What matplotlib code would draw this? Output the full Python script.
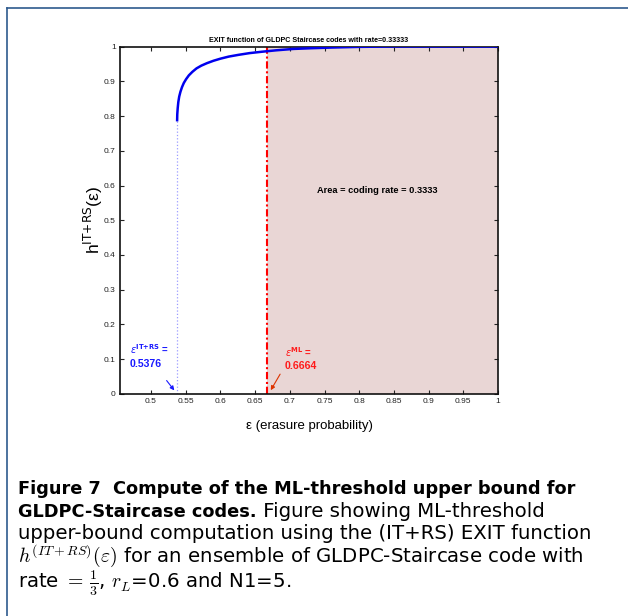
import matplotlib
matplotlib.use('Agg')
import matplotlib.pyplot as plt
from matplotlib.lines import Line2D

plt.rcParams['font.family'] = ['Liberation Sans', 'DejaVu Sans']

# EXIT curve h^(IT+RS)(eps)
eps = [0.5376, 0.5378, 0.5384, 0.5393, 0.5406, 0.5424, 0.5446, 0.5472, 0.5505,
       0.5545, 0.5595, 0.5655, 0.5725, 0.5805, 0.590, 0.600, 0.612, 0.626,
       0.642, 0.660, 0.680, 0.705, 0.730, 0.760, 0.800, 0.850, 0.900, 0.950, 1.0]
h_eps = [0.788, 0.805, 0.822, 0.840, 0.856, 0.870, 0.883, 0.895, 0.906,
         0.917, 0.927, 0.937, 0.945, 0.952, 0.959, 0.965, 0.971, 0.976,
         0.981, 0.985, 0.989, 0.993, 0.995, 0.997, 0.999, 1.0, 1.0, 1.0, 1.0]

eps_it = 0.5376
eps_ml = 0.6664
rate = 0.3333

xticks = [0.5, 0.55, 0.6, 0.65, 0.7, 0.75, 0.8, 0.85, 0.9, 0.95, 1]
xticklabels = ['0.5', '0.55', '0.6', '0.65', '0.7', '0.75', '0.8', '0.85', '0.9', '0.95', '1']
yticks = [0, 0.1, 0.2, 0.3, 0.4, 0.5, 0.6, 0.7, 0.8, 0.9, 1]
yticklabels = ['0', '0.1', '0.2', '0.3', '0.4', '0.5', '0.6', '0.7', '0.8', '0.9', '1']

fig = plt.figure(figsize=(6.28, 6.16), dpi=100)
ax = fig.add_axes([0.1911, 0.3604, 0.602, 0.5641])

# shaded area right of the ML threshold
ax.axvspan(eps_ml, 1.0, ymin=0, ymax=1, color='#e9d6d5', lw=0, zorder=0)
ax.plot(eps, h_eps, color='#0000ee', lw=1.8, zorder=3)
ax.plot([eps_it, eps_it], [0, h_eps[0]], color='#9b9bff', lw=0.9, ls=':', zorder=2)
ax.plot([eps_ml, eps_ml], [0, 1], color='#ff0000', lw=1.5, zorder=2,
        dashes=(3.5, 1.3, 1.0, 1.3))

ax.set_xlim(0.4553, 1.0)
ax.set_ylim(0, 1)
ax.set_xticks(xticks)
ax.set_xticklabels(xticklabels)
ax.set_yticks(yticks)
ax.set_yticklabels(yticklabels)
ax.tick_params(direction='in', top=True, right=True, length=3, width=0.8,
               labelsize=6, colors='#222222', pad=3)
for s in ax.spines.values():
    s.set_linewidth(1.2)
    s.set_color('#111111')

ax.set_title('EXIT function of GLDPC Staircase codes with rate=0.33333',
             fontsize=5.1, fontweight='bold', pad=3)
ax.set_xlabel('ε (erasure probability)', fontsize=9.5, labelpad=11)
ax.set_ylabel(r'h$^{\mathrm{IT{+}RS}}$(ε)', fontsize=12.5, labelpad=-1)

ax.text(0.739, 0.587, 'Area = coding rate = %.4f' % rate, fontsize=6.7,
        fontweight='bold', va='center', ha='left')

# threshold labels and arrows
ax.text(0.4697, 0.130, r'$\epsilon^{\mathbf{IT{+}RS}}$ =', color='#1a1aff',
        fontsize=7, fontweight='bold', va='center')
ax.text(0.4697, 0.085, '%.4f' % eps_it, color='#1a1aff', fontsize=7.6,
        fontweight='bold', va='center')
ax.annotate('', xy=(0.536, 0.004), xytext=(0.520, 0.045),
            arrowprops=dict(arrowstyle='-|>', color='#1a1aff', lw=0.8, mutation_scale=6))
ax.text(0.693, 0.122, r'$\epsilon^{\mathbf{ML}}$ =', color='#ff1a1a',
        fontsize=7, fontweight='bold', va='center')
ax.text(0.693, 0.080, '%.4f' % eps_ml, color='#ff1a1a', fontsize=7.6,
        fontweight='bold', va='center')
ax.annotate('', xy=(0.6705, 0.004), xytext=(0.688, 0.064),
            arrowprops=dict(arrowstyle='-|>', color='#dd3300', lw=0.8, mutation_scale=6))

# page frame
fig.add_artist(Line2D([0.0117, 1.0], [0.9865, 0.9865], color='#2d5a8e', lw=1.2))
fig.add_artist(Line2D([0.0117, 0.0117], [0.0, 0.9865], color='#2d5a8e', lw=1.2))

# caption
bfs = 12.8
rfs = 14.2
x0 = 0.029
bold = dict(fontsize=bfs, fontweight='bold', family='DejaVu Sans', va='baseline')
reg = dict(fontsize=rfs, family='DejaVu Sans', va='baseline', math_fontfamily='cm')
fig.text(x0, 1 - 494 / 616, 'Figure 7  Compute of the ML-threshold upper bound for', **bold)
t2 = fig.text(x0, 1 - 517 / 616, 'GLDPC-Staircase codes.', **bold)
ax.annotate(' Figure showing ML-threshold', xy=(1, 0), xycoords=t2,
            fontsize=rfs, family='DejaVu Sans', va='bottom', ha='left',
            annotation_clip=False)
fig.text(x0, 1 - 539 / 616, 'upper-bound computation using the (IT+RS) EXIT function', **reg)
fig.text(x0, 1 - 562 / 616,
         r'$h^{(IT+RS)}(\varepsilon)$ for an ensemble of GLDPC-Staircase code with', **reg)
fig.text(x0, 1 - 588 / 616, r'rate $=\,\frac{1}{3}$, $r_L$=0.6 and N1=5.', **reg)

fig.savefig('out.png', dpi=100)
